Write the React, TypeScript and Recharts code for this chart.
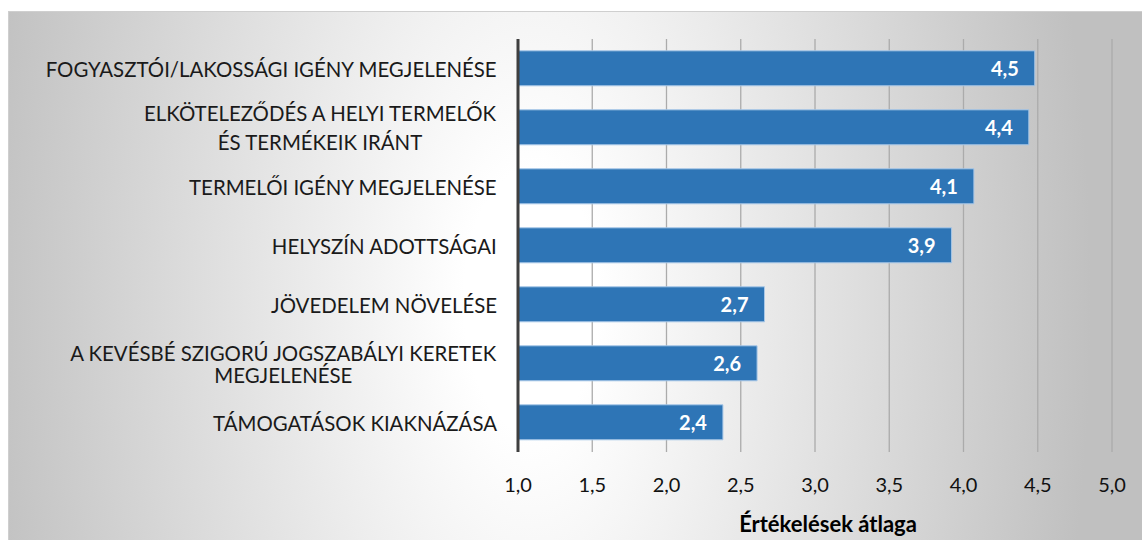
import React from 'react';
import {
  BarChart,
  Bar,
  XAxis,
  YAxis,
  CartesianGrid,
  LabelList
} from 'recharts';

// Labels; "\n" marks a forced line break
const categories = [
  'FOGYASZTÓI/LAKOSSÁGI IGÉNY MEGJELENÉSE',
  'ELKÖTELEZŐDÉS A HELYI TERMELŐK\nÉS TERMÉKEIK IRÁNT',
  'TERMELŐI IGÉNY MEGJELENÉSE',
  'HELYSZÍN ADOTTSÁGAI',
  'JÖVEDELEM NÖVELÉSE',
  'A KEVÉSBÉ SZIGORÚ JOGSZABÁLYI KERETEK\nMEGJELENÉSE',
  'TÁMOGATÁSOK KIAKNÁZÁSA'
];
const averages = [4.48, 4.44, 4.07, 3.92, 2.66, 2.61, 2.38];
const xTicks = [1, 1.5, 2, 2.5, 3, 3.5, 4, 4.5, 5];
const axisTitle = 'Értékelések átlaga';

const chartData = categories.map((name, i) => ({ name, value: averages[i] }));

const FONT = 'Lato, "Noto Sans", sans-serif';
const LABEL_SIZE = 20.4;
const TICK_SIZE = 20;
const VALUE_SIZE = 20;
const TITLE_SIZE = 22;
const BAR_BLUE = '#2E75B6';

// line spacing of the two-line labels (the second label sits looser in the original)
const lineGap = (index: number) => (index === 1 ? 29 : 22);

let measureCtx: CanvasRenderingContext2D | null = null;
const textWidth = (text: string) => {
  if (!measureCtx) measureCtx = document.createElement('canvas').getContext('2d');
  if (!measureCtx) return text.length * LABEL_SIZE * 0.6;
  measureCtx.font = `400 ${LABEL_SIZE}px Lato`;
  return measureCtx.measureText(text).width;
};

const fmt = (v: number) => v.toFixed(1).replace('.', ',');

const CategoryTick = (props: any) => {
  const { x, y, payload, index } = props;
  const lines: string[] = String(payload.value).split('\n');
  const gap = lineGap(index);
  const blockWidth = Math.max(...lines.map(textWidth));
  const cx = x - blockWidth / 2;
  const startY = y - ((lines.length - 1) * gap) / 2;
  return (
    <text
      textAnchor="middle"
      dominantBaseline="central"
      fill="#1a1a1a"
      fontFamily={FONT}
      fontSize={LABEL_SIZE}
    >
      {lines.map((line, i) => (
        <tspan key={i} x={cx} y={startY + i * gap}>
          {line}
        </tspan>
      ))}
    </text>
  );
};

const ValueLabel = (props: any) => {
  const { x, y, width, height, value } = props;
  return (
    <text
      x={x + width - 16}
      y={y + height / 2}
      textAnchor="end"
      dominantBaseline="central"
      fill="#ffffff"
      fontFamily={FONT}
      fontWeight={700}
      fontSize={VALUE_SIZE}
    >
      {fmt(value)}
    </text>
  );
};

const AxisTitle = (props: any) => {
  const { viewBox } = props;
  return (
    <text
      x={viewBox.x + viewBox.width / 2 + 13}
      y={viewBox.y + 71}
      textAnchor="middle"
      dominantBaseline="central"
      fill="#000"
      fontFamily={FONT}
      fontWeight={700}
      fontSize={TITLE_SIZE}
    >
      {axisTitle}
    </text>
  );
};

const App: React.FC = () => {
  return (
    <div
      style={{
        position: 'fixed',
        left: 0,
        top: 0,
        width: 1142,
        height: 540,
        overflow: 'hidden',
        background: '#fff'
      }}
    >
      <div
        style={{
          position: 'absolute',
          left: 8,
          top: 11,
          width: 1160,
          height: 560,
          boxSizing: 'border-box',
          border: '1px solid #cfcfcf',
          background:
            'radial-gradient(560px 1100px at 522px 289px, #ffffff 12%, #c0c0c0 100%)'
        }}
      >
        <div style={{ position: 'absolute', left: -1, top: -1 }}>
          <BarChart
            width={1134}
            height={529}
            data={chartData}
            layout="vertical"
            margin={{ top: 28, right: 30, bottom: 28, left: 0 }}
            barCategoryGap="20%"
          >
            <CartesianGrid
              horizontal={false}
              stroke="#ababab"
              strokeWidth={1.3}
            />
            <XAxis
              type="number"
              domain={[1, 5]}
              ticks={xTicks}
              allowDataOverflow
              height={60}
              axisLine={false}
              tickLine={false}
              tickSize={0}
              tickMargin={26}
              tickFormatter={fmt}
              tick={{ fill: '#111', fontFamily: FONT, fontSize: TICK_SIZE }}
              label={{ value: axisTitle, content: AxisTitle }}
            />
            <YAxis
              type="category"
              dataKey="name"
              width={510}
              interval={0}
              axisLine={{ stroke: '#3f3f3f', strokeWidth: 3 }}
              tickLine={false}
              tickSize={0}
              tickMargin={21}
              tick={CategoryTick}
            />
            <Bar
              dataKey="value"
              fill={BAR_BLUE}
              stroke="#a9c8e8"
              strokeWidth={1}
              isAnimationActive={false}
            >
              <LabelList dataKey="value" content={ValueLabel} />
            </Bar>
          </BarChart>
        </div>
      </div>
    </div>
  );
};

export default App;
